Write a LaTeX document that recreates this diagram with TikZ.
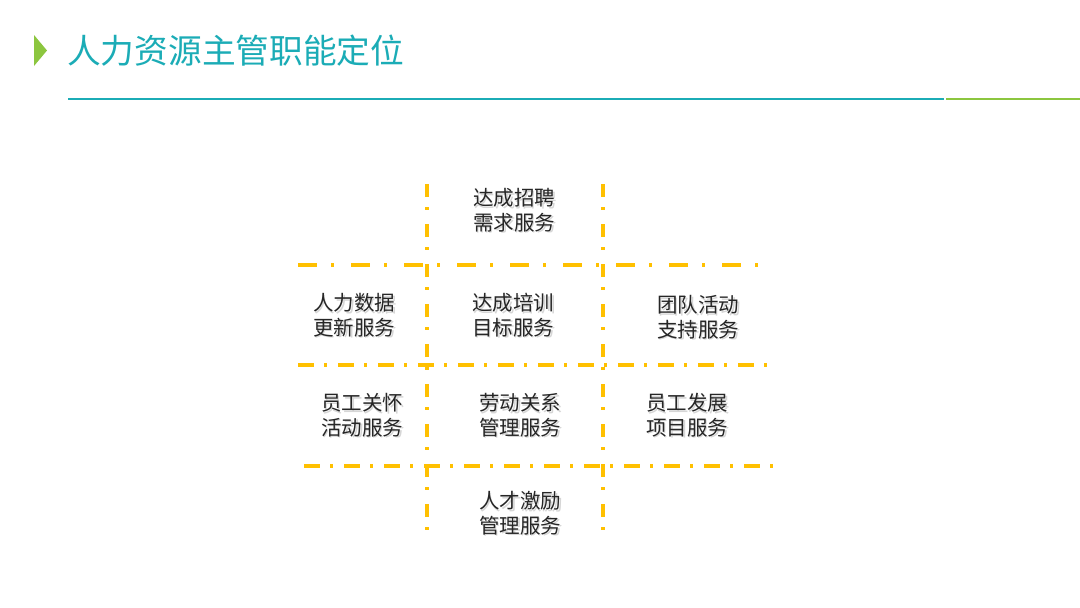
\documentclass[tikz,border=0pt]{standalone}
\usepackage{fontspec}
\newfontfamily\cjk{Noto Sans CJK SC}
\definecolor{teal1}{RGB}{27,172,182}
\definecolor{green1}{RGB}{140,198,63}
\definecolor{gold1}{RGB}{255,192,0}
\definecolor{txt}{RGB}{38,38,38}
\newcommand\shd[1]{\makebox[0pt][l]{\hspace{1.6pt}\raisebox{-1.6pt}{\color{black!16}#1}}#1}
\begin{document}
\begin{tikzpicture}[x=1pt,y=-1pt,
  cell/.style={font=\cjk\fontsize{20.5}{24.5}\selectfont, text=txt, align=center, inner sep=0pt},
  rowA/.style={draw=gold1, line width=4.5pt, dash pattern=on 19pt off 14pt on 3pt off 17pt},
  rowB/.style={draw=gold1, line width=3.5pt, dash pattern=on 16pt off 10pt on 3pt off 11pt},
  colL/.style={draw=gold1, line width=3.5pt, dash pattern=on 13pt off 10pt on 3pt off 14pt}]
\useasboundingbox (0,0) rectangle (1080,608);
\fill[white] (0,0) rectangle (1080,608);
% title
\fill[green1] (34,35) -- (47,50.5) -- (34,66) -- cycle;
\node[anchor=west, inner sep=0pt, text=teal1, font=\cjk\fontsize{33.7}{36}\selectfont] (title) at (67,51) {人力资源主管职能定位};
\draw[teal1, line width=1.6pt] (68,99) -- (944,99);
\draw[green1, line width=1.6pt] (946,99) -- (1080,99);
% grid
\draw[colL] (427,184) -- (427,536);
\draw[colL] (603,184) -- (603,536);
\draw[rowA] (298,265) -- (758,265);
\draw[rowB] (298,365) -- (768,365);
\draw[rowB] (304,466) -- (776,466);
% cells
\node[cell] (c1) at (514,211) {\shd{达成招聘}\\\shd{需求服务}};
\node[cell] (c2) at (354,316) {\shd{人力数据}\\\shd{更新服务}};
\node[cell] (c3) at (513,316) {\shd{达成培训}\\\shd{目标服务}};
\node[cell] (c4) at (698,318) {\shd{团队活动}\\\shd{支持服务}};
\node[cell] (c5) at (362,416) {\shd{员工关怀}\\\shd{活动服务}};
\node[cell] (c6) at (520,416) {\shd{劳动关系}\\\shd{管理服务}};
\node[cell] (c7) at (687,416) {\shd{员工发展}\\\shd{项目服务}};
\node[cell] (c8) at (520,514) {\shd{人才激励}\\\shd{管理服务}};
\end{tikzpicture}
\end{document}
